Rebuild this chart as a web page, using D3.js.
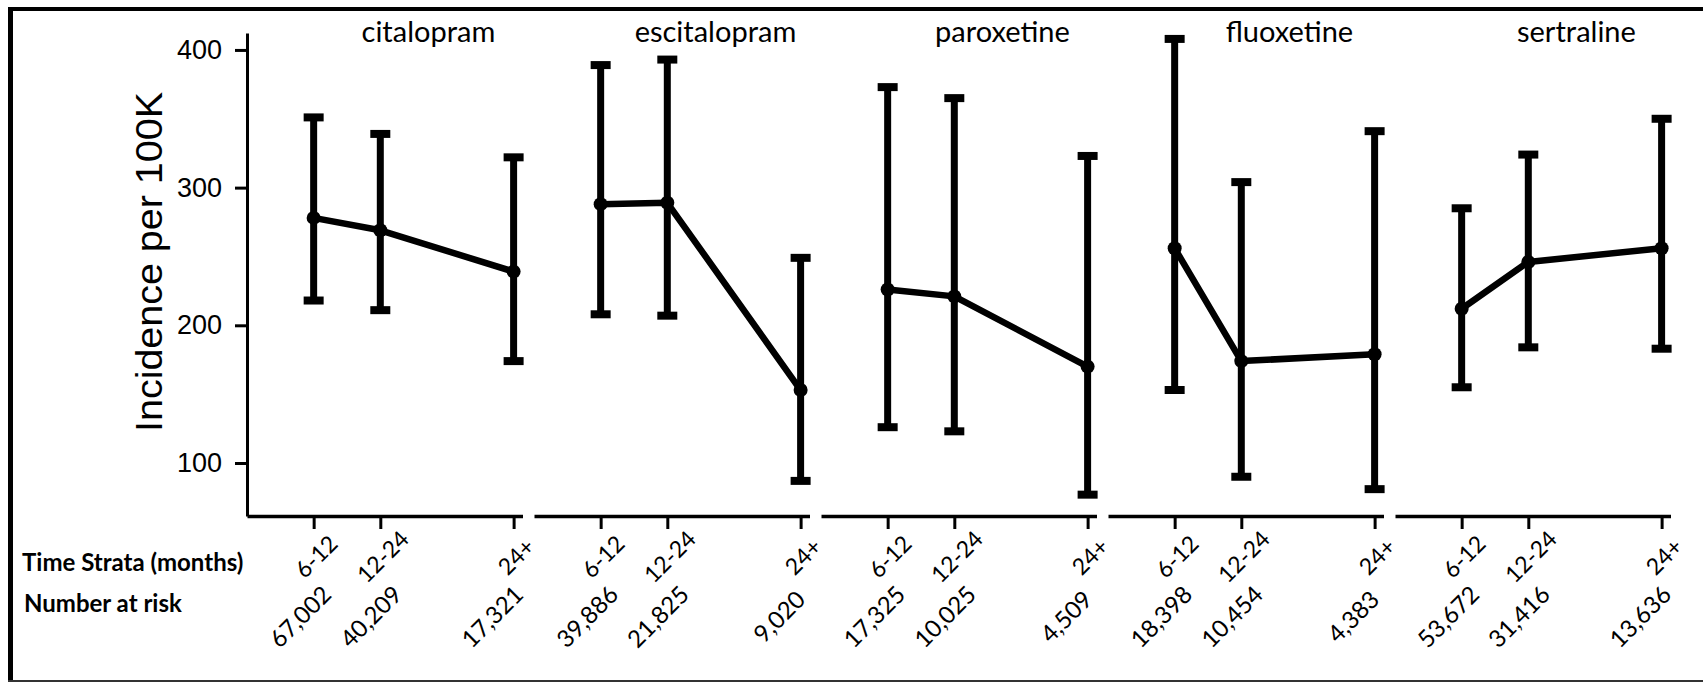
<!DOCTYPE html>
<html>
<head>
<meta charset="utf-8">
<script src="https://cdn.jsdelivr.net/npm/d3@7"></script>
<style>
  html, body { margin: 0; padding: 0; background: #fff; }
  svg { display: block; }
</style>
</head>
<body>
<svg id="chart" width="1703" height="682"></svg>
<script>
// ---------- data ----------
const drugs = ["citalopram", "escitalopram", "paroxetine", "fluoxetine", "sertraline"];
const strata = ["6-12", "12-24", "24+"];
const strataMonths = [9, 18, 36];           // position of each stratum on the time axis
const estimate = [
  [278, 269, 239],
  [288, 289, 153],
  [226, 221, 170],
  [256, 174, 179],
  [212, 246, 256]
];
const lower = [
  [218, 211, 174],
  [208, 207, 87],
  [126, 123, 77],
  [153, 90, 81],
  [155, 184, 183]
];
const upper = [
  [351, 339, 322],
  [389, 393, 249],
  [373, 365, 323],
  [408, 304, 341],
  [285, 324, 350]
];
const atRisk = [
  ["67,002", "40,209", "17,321"],
  ["39,886", "21,825", "9,020"],
  ["17,325", "10,025", "4,509"],
  ["18,398", "10,454", "4,383"],
  ["53,672", "31,416", "13,636"]
];
const yTicks = [100, 200, 300, 400];
const yLabel = "Incidence per 100K";
const rowLabels = ["Time Strata (months)", "Number at risk"];

// ---------- layout ----------
const svg = d3.select("#chart");
const W = 1703, H = 682;
const panelLeft = 247, panelPitch = 287, panelWidth = 275.5;
const axisY = 516, axisTop = 33;
const numberShift = [-14, -10, -22];   // horizontal nudge of the at-risk labels
const calibri = "Lato, 'Open Sans', sans-serif";
const helv = "'Liberation Sans', Arial, Helvetica, sans-serif";

// frame
svg.append("line").attr("x1", 10.5).attr("x2", 10.5).attr("y1", 7).attr("y2", H)
  .attr("stroke", "#000").attr("stroke-width", 5);
svg.append("line").attr("x1", 8).attr("x2", W).attr("y1", 9).attr("y2", 9)
  .attr("stroke", "#000").attr("stroke-width", 4);
svg.append("line").attr("x1", 8).attr("x2", W).attr("y1", 681).attr("y2", 681)
  .attr("stroke", "#333").attr("stroke-width", 2);

const y = d3.scaleLinear().domain([61.5, 412.3]).range([axisY, axisTop]);
const x = d3.scaleLinear().domain([0, 37.2]).range([0, panelWidth]);

// y axis
const yAxisG = svg.append("g").attr("transform", `translate(${panelLeft},0)`)
  .call(d3.axisLeft(y).tickValues(yTicks).tickSize(12).tickSizeOuter(0).tickPadding(13));
yAxisG.select(".domain").attr("stroke-width", 3).attr("stroke", "#000");
yAxisG.selectAll(".tick line").attr("stroke-width", 3).attr("stroke", "#000");
yAxisG.selectAll(".tick text").attr("font-family", helv).attr("font-size", 27).attr("fill", "#000");

// y label
svg.append("text")
  .attr("transform", `translate(162,262) rotate(-90)`)
  .attr("text-anchor", "middle")
  .attr("font-family", helv).attr("font-size", 37)
  .attr("textLength", 340).attr("lengthAdjust", "spacingAndGlyphs")
  .text(yLabel);

// row labels
svg.append("text").attr("x", 22).attr("y", 571)
  .attr("font-family", calibri).attr("font-weight", "bold").attr("font-size", 24)
  .text(rowLabels[0]);
svg.append("text").attr("x", 24).attr("y", 612)
  .attr("font-family", calibri).attr("font-weight", "bold").attr("font-size", 24)
  .text(rowLabels[1]);

const line = d3.line().x((d, i) => x(strataMonths[i])).y(d => y(d));

drugs.forEach((drug, p) => {
  const g = svg.append("g").attr("transform", `translate(${panelLeft + p * panelPitch},0)`);

  // x axis
  const xa = g.append("g").attr("transform", `translate(0,${axisY})`)
    .call(d3.axisBottom(x).tickValues(strataMonths).tickSize(13).tickSizeOuter(0).tickFormat(""));
  xa.select(".domain").attr("stroke-width", 3.5).attr("stroke", "#000");
  xa.selectAll(".tick line").attr("stroke-width", 3).attr("stroke", "#000");

  // title
  g.append("text").attr("x", x(24.5)).attr("y", 42)
    .attr("text-anchor", "middle")
    .attr("font-family", calibri).attr("font-size", 29)
    .text(drug);

  // error bars
  strata.forEach((s, i) => {
    const cx = x(strataMonths[i]);
    g.append("line").attr("x1", cx).attr("x2", cx)
      .attr("y1", y(lower[p][i])).attr("y2", y(upper[p][i]))
      .attr("stroke", "#000").attr("stroke-width", 7);
    [lower[p][i], upper[p][i]].forEach(v => {
      g.append("line").attr("x1", cx - 10).attr("x2", cx + 10)
        .attr("y1", y(v)).attr("y2", y(v))
        .attr("stroke", "#000").attr("stroke-width", 8);
    });
  });

  // estimate line and points
  g.append("path").datum(estimate[p]).attr("d", line)
    .attr("fill", "none").attr("stroke", "#000").attr("stroke-width", 6.5)
    .attr("stroke-linejoin", "round");
  g.selectAll("circle.pt").data(estimate[p]).enter().append("circle")
    .attr("class", "pt")
    .attr("cx", (d, i) => x(strataMonths[i])).attr("cy", d => y(d)).attr("r", 7)
    .attr("fill", "#000");

  // tick labels (rotated)
  strata.forEach((s, i) => {
    const cx = x(strataMonths[i]);
    g.append("text")
      .attr("transform", `translate(${cx + 2},556) rotate(-45)`)
      .attr("text-anchor", "middle").attr("dominant-baseline", "central")
      .attr("font-family", calibri).attr("font-size", 23)
      .text(s);
    g.append("text")
      .attr("transform", `translate(${cx + numberShift[i]},616) rotate(-45)`)
      .attr("text-anchor", "middle").attr("dominant-baseline", "central")
      .attr("font-family", calibri).attr("font-size", 24)
      .text(atRisk[p][i]);
  });
});
</script>
</body>
</html>
